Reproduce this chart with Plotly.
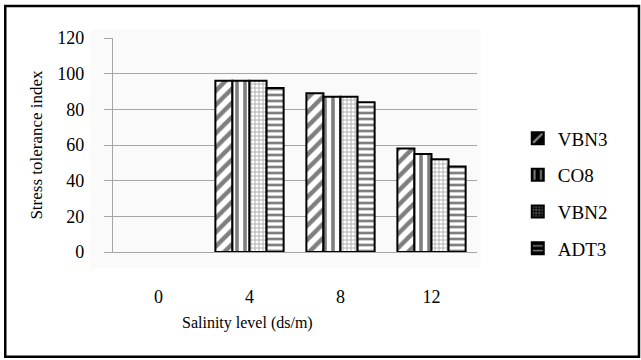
import plotly.graph_objects as go

# Salinity levels (ds/m) and stress tolerance index per variety
salinity = ["0", "4", "8", "12"]
vbn3 = [0, 96, 89, 58]
co8 = [0, 96, 87, 55]
vbn2 = [0, 96, 87, 52]
adt3 = [0, 92, 84, 48]
y_ticks = [0, 20, 40, 60, 80, 100, 120]

series = [
    ("VBN3", vbn3, dict(shape="/", size=10, solidity=0.45, fgcolor="black", bgcolor="white")),
    ("CO8", co8, dict(shape="|", size=8, solidity=0.45, fgcolor="black", bgcolor="white")),
    ("VBN2", vbn2, dict(shape="+", size=4, solidity=0.4, fgcolor="#555555", bgcolor="white")),
    ("ADT3", adt3, dict(shape="-", size=6, solidity=0.45, fgcolor="black", bgcolor="white")),
]

SERIF = "Liberation Serif"

fig = go.Figure()
for i, (name, vals, pat) in enumerate(series):
    # no outline for empty (zero) bars
    widths = [2 if v > 0 else 0 for v in vals]
    fig.add_trace(go.Bar(
        x=salinity, y=vals, name=name, legendgroup=f"g{i}", offsetgroup=str(i),
        showlegend=False,
        marker=dict(color="white", pattern=pat, line=dict(color="black", width=widths)),
    ))
    # legend key: dark square with the series pattern
    fig.add_trace(go.Bar(
        x=[None], y=[None], name=name, legendgroup=f"g{i}", offsetgroup=str(i),
        showlegend=True,
        marker=dict(color="black", line=dict(color="black", width=2),
                    pattern=dict(shape=pat["shape"], size=pat["size"],
                                 solidity=0.3, fgcolor="white", bgcolor="black")),
    ))

# light chart-area background and outer frame
fig.add_shape(type="rect", xref="paper", yref="paper",
              x0=-0.063, x1=1.01, y0=-0.075, y1=1.04,
              fillcolor="#fafafa", line=dict(width=0), layer="below")
fig.add_shape(type="rect", xref="paper", yref="paper",
              x0=-0.296, x1=1.445, y0=-0.49, y1=1.15,
              fillcolor="rgba(0,0,0,0)", line=dict(color="black", width=2.5))

fig.add_annotation(text="Salinity level (ds/m)", xref="paper", yref="paper",
                   x=0.37, y=-0.385, showarrow=False,
                   font=dict(family=SERIF, size=16, color="black"))

fig.update_layout(
    width=641, height=360,
    margin=dict(l=113, r=164, t=38, b=108),
    paper_bgcolor="white", plot_bgcolor="rgba(0,0,0,0)",
    font=dict(family=SERIF, color="black"),
    barmode="group", bargap=0.25, bargroupgap=0,
    showlegend=True,
    legend=dict(x=1.112, y=0.62, xanchor="left", yanchor="top",
                traceorder="grouped", tracegroupgap=9,
                font=dict(family=SERIF, size=19, color="black"),
                itemwidth=30, bgcolor="rgba(0,0,0,0)"),
    xaxis=dict(type="category", showgrid=False, showline=True,
               linecolor="#a6a6a6", linewidth=1.2, ticks="",
               ticklabelstandoff=28,
               tickfont=dict(family=SERIF, size=18, color="black")),
    yaxis=dict(range=[0, 120], tickvals=y_ticks, showgrid=True,
               gridcolor="#a6a6a6", gridwidth=1.2,
               showline=True, linecolor="#a6a6a6", linewidth=1.2,
               ticks="outside", ticklen=8, tickcolor="#a6a6a6",
               ticklabelstandoff=16, zeroline=False,
               tickfont=dict(family=SERIF, size=18, color="black"),
               title=dict(text="Stress tolerance index", standoff=10,
                          font=dict(family=SERIF, size=17, color="black"))),
)

fig.write_html("out.html")
